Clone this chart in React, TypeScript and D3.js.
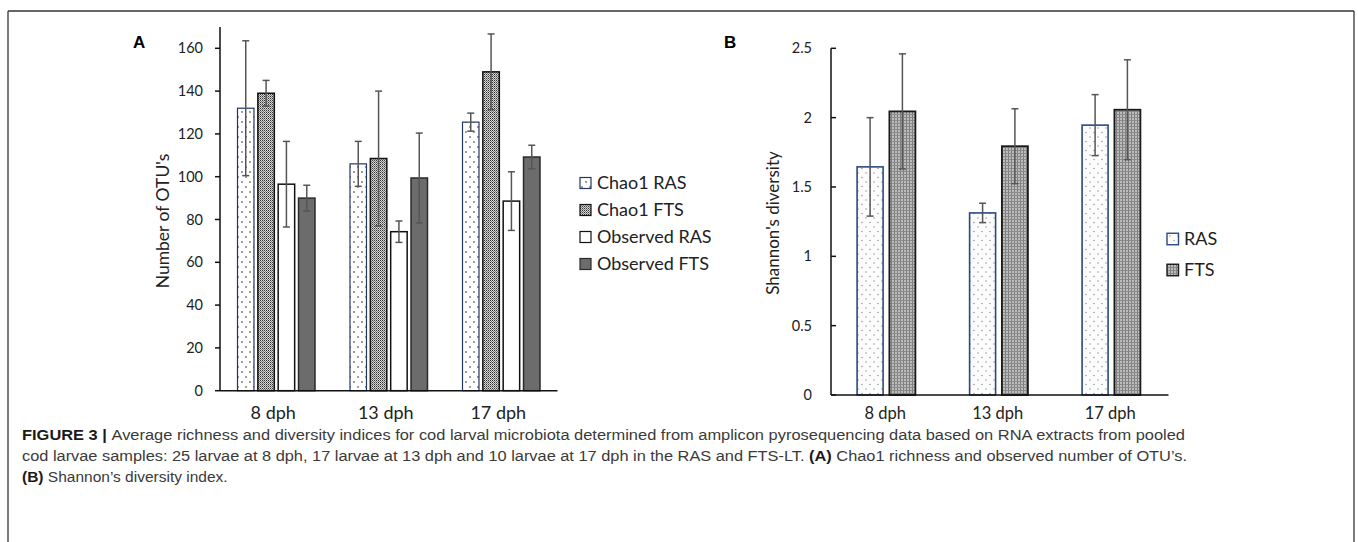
import * as d3 from 'd3';
import { useEffect } from 'react';

// categories
const days = ['8 dph', '13 dph', '17 dph'];

// panel A: richness
const seriesA = ['Chao1 RAS', 'Chao1 FTS', 'Observed RAS', 'Observed FTS'];
const chao1Ras = [132, 106, 125.5];
const chao1RasErr = [31.5, 10.5, 4.2];
const chao1Fts = [139, 108.5, 149];
const chao1FtsErr = [6, 31.5, 17.7];
const obsRas = [96.5, 74.3, 88.6];
const obsRasErr = [20, 5, 13.7];
const obsFts = [90, 99.4, 109.2];
const obsFtsErr = [6, 21, 5.5];
const ticksA = [0, 20, 40, 60, 80, 100, 120, 140, 160];

// panel B: Shannon
const seriesB = ['RAS', 'FTS'];
const shannonRas = [1.645, 1.313, 1.946];
const shannonRasErr = [0.355, 0.07, 0.22];
const shannonFts = [2.045, 1.794, 2.057];
const shannonFtsErr = [0.415, 0.27, 0.36];
const ticksB = [0, 0.5, 1, 1.5, 2, 2.5];

const valuesA = [chao1Ras, chao1Fts, obsRas, obsFts];
const errorsA = [chao1RasErr, chao1FtsErr, obsRasErr, obsFtsErr];
const valuesB = [shannonRas, shannonFts];
const errorsB = [shannonRasErr, shannonFtsErr];

const styleA = [
  { fill: 'url(#dotsA)', stroke: '#23365f', sw: 1.2 },
  { fill: 'url(#denseA)', stroke: '#111', sw: 1.5 },
  { fill: '#fff', stroke: '#111', sw: 1.5 },
  { fill: '#6c6c6c', stroke: '#2a2a2a', sw: 1.5 },
];
const styleB = [
  { fill: 'url(#dotsB)', stroke: '#2b4a80', sw: 1.6 },
  { fill: 'url(#checkB)', stroke: '#1a1a1a', sw: 1.8 },
];

const FONT = 'Lato, "Open Sans", sans-serif';
const CAP = '"Liberation Sans", Arial, sans-serif';

const ErrBar = ({ x, y1, y2 }: { x: number; y1: number; y2: number }) => (
  <g stroke="#555" strokeWidth={1.5}>
    <line x1={x} x2={x} y1={y1} y2={y2} />
    <line x1={x - 3.5} x2={x + 3.5} y1={y1} y2={y1} />
    <line x1={x - 3.5} x2={x + 3.5} y1={y2} y2={y2} />
  </g>
);

export default function App() {
  useEffect(() => {
    document.body.style.margin = '0';
  }, []);

  // panel A scales
  const xA = d3.scaleBand<string>().domain(days).range([220, 557.5]);
  const xAi = d3.scaleBand<string>().domain(seriesA).range([17.5, 95]).paddingInner(0.19);
  const yA = d3.scaleLinear().domain([0, 170]).range([390.7, 26.9]);

  // panel B scales
  const xB = d3.scaleBand<string>().domain(days).range([830, 1167.5]);
  const xBi = d3.scaleBand<string>().domain(seriesB).range([27.1, 85.4]).paddingInner(0.195);
  const yB = d3.scaleLinear().domain([0, 2.5]).range([395, 48.3]);

  const legendA = d3.scalePoint<string>().domain(seriesA).range([183, 264]);
  const legendB = d3.scalePoint<string>().domain(seriesB).range([239, 270]);

  return (
    <svg width={1358} height={542} style={{ display: 'block' }}>
      <defs>
        <pattern id="dotsA" patternUnits="userSpaceOnUse" width={8} height={10}>
          <rect width={8} height={10} fill="#fff" />
          <circle cx={2} cy={2} r={0.8} fill="#222" />
          <circle cx={6} cy={7} r={0.8} fill="#222" />
        </pattern>
        <pattern id="denseA" patternUnits="userSpaceOnUse" width={2} height={2}>
          <rect width={2} height={2} fill="#d6d6d6" />
          <rect x={0} y={0} width={1} height={1} fill="#333" />
          <rect x={1} y={1} width={1} height={1} fill="#7a7a7a" />
        </pattern>
        <pattern id="dotsB" patternUnits="userSpaceOnUse" width={8} height={9}>
          <rect width={8} height={9} fill="#fcfcfc" />
          <circle cx={2} cy={2} r={0.7} fill="#888" />
          <circle cx={6} cy={6.5} r={0.7} fill="#888" />
        </pattern>
        <pattern id="checkB" patternUnits="userSpaceOnUse" width={3} height={3}>
          <rect width={3} height={3} fill="#bdbdbd" />
          <rect x={0} y={0} width={1} height={3} fill="#7d7d7d" />
          <rect x={0} y={0} width={3} height={1} fill="#8a8a8a" />
        </pattern>
      </defs>

      {/* frame */}
      <g stroke="#333" strokeWidth={1.3} fill="none">
        <line x1={8} x2={1354} y1={11} y2={11} />
        <line x1={8} x2={8} y1={11} y2={542} />
        <line x1={1354} x2={1354} y1={11} y2={542} />
      </g>

      {/* ---------- panel A ---------- */}
      <text x={133} y={48} fontFamily="Liberation Sans, Arial" fontWeight="bold" fontSize={17}>A</text>
      {seriesA.map((s, si) =>
        days.map((d, di) => {
          const v = valuesA[si][di];
          const e = errorsA[si][di];
          const x0 = (xA(d) ?? 0) + (xAi(s) ?? 0);
          const cx = x0 + xAi.bandwidth() / 2;
          return (
            <g key={s + d}>
              <rect x={x0} y={yA(v)} width={xAi.bandwidth()} height={yA(0) - yA(v)}
                fill={styleA[si].fill} stroke={styleA[si].stroke} strokeWidth={styleA[si].sw} />
              <ErrBar x={cx} y1={yA(v + e)} y2={yA(v - e)} />
            </g>
          );
        })
      )}
      <g stroke="#111" strokeWidth={1.5}>
        <line x1={220} x2={220} y1={yA(170)} y2={yA(0)} />
        <line x1={220} x2={557.5} y1={yA(0)} y2={yA(0)} />
        {ticksA.map(t => <line key={t} x1={215} x2={220} y1={yA(t)} y2={yA(t)} />)}
      </g>
      {ticksA.map(t => (
        <text key={t} x={203} y={yA(t)} dy="0.35em" textAnchor="end" fontFamily={FONT} fontSize={14.5} fill="#222">{t}</text>
      ))}
      {days.map(d => (
        <text key={d} x={(xA(d) ?? 0) + xA.bandwidth() / 2 - 3} y={413} dy="0.35em" textAnchor="middle" fontFamily={FONT} fontSize={18} fill="#222">{d}</text>
      ))}
      <text transform="translate(163,221) rotate(-90)" textAnchor="middle" dy="0.35em" fontFamily={FONT} fontSize={17.5} fill="#222">Number of OTU's</text>
      {seriesA.map((s, si) => (
        <g key={s}>
          <rect x={580} y={(legendA(s) ?? 0) - 5.5} width={11} height={11}
            fill={styleA[si].fill} stroke={styleA[si].stroke} strokeWidth={1.2} />
          <text x={597} y={legendA(s)} dy="0.35em" fontFamily={FONT} fontSize={18} fill="#222">{s}</text>
        </g>
      ))}

      {/* ---------- panel B ---------- */}
      <text x={724} y={48} fontFamily="Liberation Sans, Arial" fontWeight="bold" fontSize={17}>B</text>
      {seriesB.map((s, si) =>
        days.map((d, di) => {
          const v = valuesB[si][di];
          const e = errorsB[si][di];
          const x0 = (xB(d) ?? 0) + (xBi(s) ?? 0);
          const cx = x0 + xBi.bandwidth() / 2;
          return (
            <g key={s + d}>
              <rect x={x0} y={yB(v)} width={xBi.bandwidth()} height={yB(0) - yB(v)}
                fill={styleB[si].fill} stroke={styleB[si].stroke} strokeWidth={styleB[si].sw} />
              <ErrBar x={cx} y1={yB(v + e)} y2={yB(v - e)} />
            </g>
          );
        })
      )}
      <g stroke="#111" strokeWidth={1.5}>
        <line x1={831} x2={831} y1={yB(2.5)} y2={yB(0)} />
        <line x1={831} x2={1168.5} y1={yB(0)} y2={yB(0)} />
        {ticksB.map(t => <line key={t} x1={831} x2={836} y1={yB(t)} y2={yB(t)} />)}
      </g>
      {ticksB.map(t => (
        <text key={t} x={812} y={yB(t)} dy="0.35em" textAnchor="end" fontFamily={FONT} fontSize={14.5} fill="#222">{t}</text>
      ))}
      {days.map(d => (
        <text key={d} x={(xB(d) ?? 0) + xB.bandwidth() / 2 - 1} y={413} dy="0.35em" textAnchor="middle" fontFamily={FONT} fontSize={16.5} fill="#222">{d}</text>
      ))}
      <text transform="translate(773,223) rotate(-90)" textAnchor="middle" dy="0.35em" fontFamily={FONT} fontSize={17} fill="#222">Shannon's diversity</text>
      {seriesB.map((s, si) => (
        <g key={s}>
          <rect x={1167} y={(legendB(s) ?? 0) - 5.75} width={11.5} height={11.5}
            fill={styleB[si].fill} stroke={styleB[si].stroke} strokeWidth={1.4} />
          <text x={1184} y={legendB(s)} dy="0.35em" fontFamily={FONT} fontSize={18} fill="#222">{s}</text>
        </g>
      ))}

      {/* ---------- caption ---------- */}
      <g fontFamily={CAP} fontSize={15.5} fill="#3a3a3a">
        <text x={22} y={440} textLength={1163} lengthAdjust="spacingAndGlyphs">
          <tspan fontWeight="bold" fill="#1a1a1a">FIGURE 3 | </tspan>Average richness and diversity indices for cod larval microbiota determined from amplicon pyrosequencing data based on RNA extracts from pooled
        </text>
        <text x={22} y={461} textLength={1165} lengthAdjust="spacingAndGlyphs">
          cod larvae samples: 25 larvae at 8 dph, 17 larvae at 13 dph and 10 larvae at 17 dph in the RAS and FTS-LT. <tspan fontWeight="bold" fill="#1a1a1a">(A)</tspan> Chao1 richness and observed number of OTU’s.
        </text>
        <text x={22} y={482}>
          <tspan fontWeight="bold" fill="#1a1a1a">(B)</tspan> Shannon’s diversity index.
        </text>
      </g>
    </svg>
  );
}
